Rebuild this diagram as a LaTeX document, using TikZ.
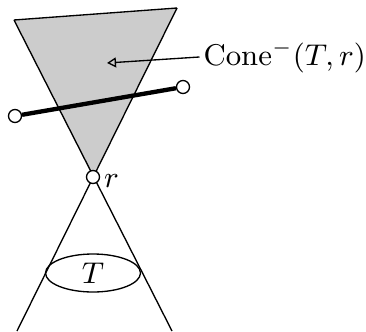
\documentclass[tikz,border=0pt]{standalone}
\usepackage{amsmath,amssymb}
\usepackage{tikz}
\usetikzlibrary{positioning,arrows.meta,shapes.geometric}
\usepackage{xcolor}

\begin{document}
\begin{tikzpicture}[x=0.3pt,y=-0.3pt,>={Triangle[open,length=2.7pt,width=3pt]},
  font=\fontsize{9}{11}\selectfont,
  pt/.style={draw,circle,fill=white,inner sep=0pt,minimum size=3.9pt}]
\useasboundingbox (0,0) rectangle (366,331);
\fill[black!20] (14,20) -- (177,8) -- (93,177) -- cycle;
\draw (14,20) -- (177,8);
\draw (14,20) -- (172,331);
\draw (177,8) -- (17,331);
\node[draw,ellipse,minimum width=28.5pt,minimum height=11.4pt,inner sep=0pt] (T) at (93,273) {$T$};
\node[pt] (a) at (15,116) {};
\node[pt] (b) at (183,87) {};
\draw[line width=1.3pt] (a) -- (b);
\node[pt] (r) at (93,177) {};
\node[right=0pt of r,yshift=-1.2pt,inner sep=1pt] (rlab) {$r$};
\node[anchor=base west,inner sep=1pt] (cone) at (199.5,66) {$\mathrm{Cone}^{-}(T,r)$};
\coordinate (tip) at (107,63);
\draw[->] (cone.west) -- (tip);
\end{tikzpicture}
\end{document}
